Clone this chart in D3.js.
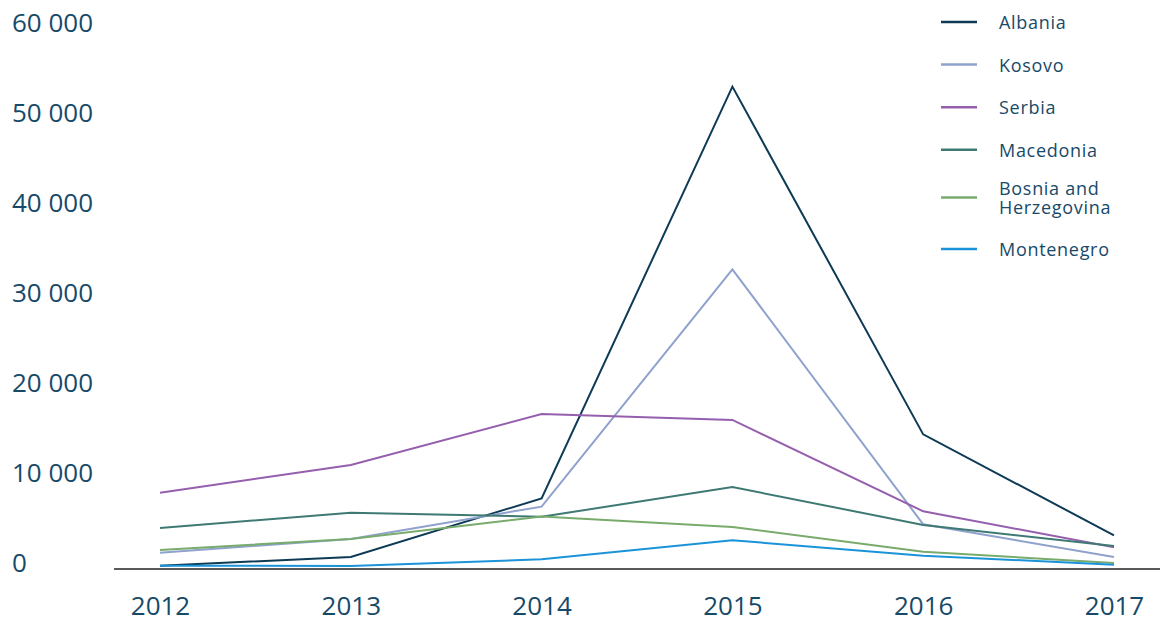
<!DOCTYPE html>
<html>
<head>
<meta charset="utf-8">
<script src="https://cdn.jsdelivr.net/npm/d3@7"></script>
<style>
  body { margin: 0; background: #ffffff; }
  svg { display: block; font-family: "Open Sans", sans-serif; }
</style>
</head>
<body>
<div id="graph"></div>
<script>

// Data

var years = ['2012', '2013', '2014', '2015', '2016', '2017'];

var albania    = [370, 1330, 7850, 53600, 14960, 3740];
var kosovo     = [1810, 3330, 6930, 33300, 4960, 1330];
var serbia     = [8480, 11560, 17220, 16560, 6410, 2410];
var macedonia  = [4560, 6260, 5800, 9110, 4890, 2560];
var bosnia     = [2110, 3330, 5820, 4670, 1930, 670];
var montenegro = [370, 330, 1070, 3190, 1480, 480];

var yTicks = [0, 10000, 20000, 30000, 40000, 50000, 60000];

var countries = [
  { name: ['Albania'], values: albania, color: '#0d3a55' },
  { name: ['Kosovo'], values: kosovo, color: '#8ea2cd' },
  { name: ['Serbia'], values: serbia, color: '#965fae' },
  { name: ['Macedonia'], values: macedonia, color: '#3e7a73' },
  { name: ['Bosnia and', 'Herzegovina'], values: bosnia, color: '#78ab6c' },
  { name: ['Montenegro'], values: montenegro, color: '#1a93d9' }
];

// SVG parameters

var svgWidth = 1160;
var svgHeight = 619;
var textColor = '#174a69';

var svg = d3.select('#graph')
  .append('svg')
  .attr('width', svgWidth)
  .attr('height', svgHeight);

// Scales

var x = d3.scalePoint()
  .domain(years)
  .range([160, 1114]);

var y = d3.scaleLinear()
  .domain([0, 60000])
  .range([569, 29]);

var fmt = d3.formatLocale({ thousands: ' ', grouping: [3], decimal: '.', currency: ['', ''] }).format(',');

// Y axis labels (no lines)

var yAxis = svg.append('g')
  .call(d3.axisLeft(y).tickValues(yTicks).tickSize(0).tickFormat(fmt));
yAxis.select('.domain').remove();
yAxis.selectAll('text')
  .attr('x', 12)
  .attr('dy', 2)
  .attr('text-anchor', 'start')
  .attr('fill', textColor)
  .style('font-size', '26px')
  .style('font-family', '"Open Sans", sans-serif');

// X axis labels

var xAxis = svg.append('g')
  .attr('transform', 'translate(0,' + y(0) + ')')
  .call(d3.axisBottom(x).tickSize(0));
xAxis.select('.domain').remove();
xAxis.selectAll('text')
  .attr('y', 46)
  .attr('dy', null)
  .attr('fill', textColor)
  .style('font-size', '26px')
  .style('font-family', '"Open Sans", sans-serif');

// Baseline

svg.append('line')
  .attr('x1', 114)
  .attr('x2', svgWidth)
  .attr('y1', y(0))
  .attr('y2', y(0))
  .attr('stroke', '#222')
  .attr('stroke-width', 1.5);

// Lines

var line = d3.line()
  .x(function (d, i) { return x(years[i]); })
  .y(function (d) { return y(d); });

svg.selectAll('path.series')
  .data(countries)
  .enter()
  .append('path')
  .attr('class', 'series')
  .attr('d', function (d) { return line(d.values); })
  .attr('fill', 'none')
  .attr('stroke', function (d) { return d.color; })
  .attr('stroke-width', 2)
  .attr('stroke-linejoin', 'miter');

// Legend

var legendY = 22;
var lineHeight = 18.3;
var rowGap = 42.6;

var rows = svg.append('g').attr('class', 'legend');
var prevExtra = 0;
countries.forEach(function (c, i) {
  var extra = c.name.length - 1;
  // wrapped labels push their neighbours apart
  if (i > 0) legendY += rowGap + extra * 5 + prevExtra * 9;
  prevExtra = extra;
  var g = rows.append('g').attr('transform', 'translate(0,' + legendY + ')');
  g.append('line')
    .attr('x1', 941)
    .attr('x2', 977)
    .attr('y1', 0)
    .attr('y2', 0)
    .attr('stroke', c.color)
    .attr('stroke-width', 2.5);
  var t = g.append('text')
    .attr('fill', textColor)
    .style('font-size', '18px')
    .style('letter-spacing', '0.7px');
  c.name.forEach(function (s, k) {
    t.append('tspan')
      .attr('x', 999)
      .attr('y', 7 + (k - extra / 2) * lineHeight)
      .text(s);
  });
});

</script>
</body>
</html>
